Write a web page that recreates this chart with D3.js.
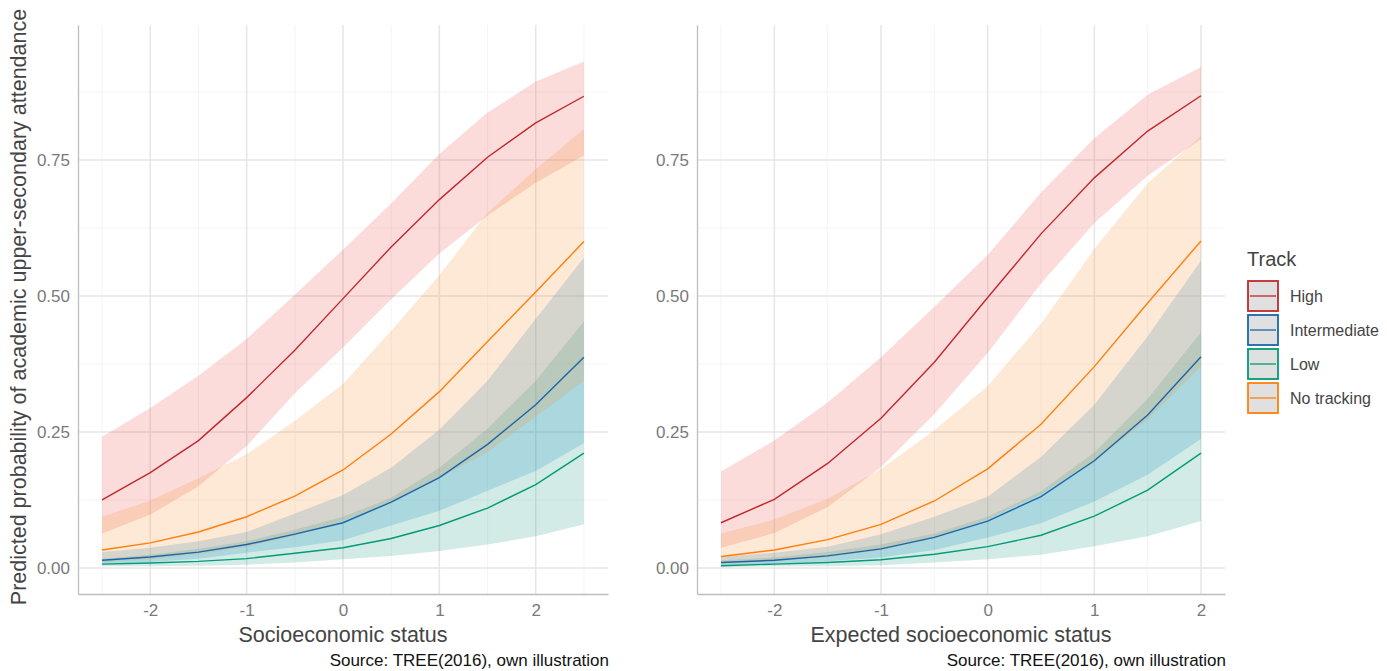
<!DOCTYPE html>
<html>
<head>
<meta charset="utf-8">
<script src="https://d3js.org/d3.v7.min.js"></script>
<style>
  body { margin: 0; background: #ffffff; }
  svg text { font-family: "Liberation Sans", Arial, sans-serif; }
</style>
</head>
<body>
<div id="chart"></div>
<script>
// ---- data ----
const tracks = ["High", "Intermediate", "Low", "No tracking"];
const xTicks = [-2, -1, 0, 1, 2];
const yTicks = [0, 0.25, 0.5, 0.75];

// panel 1: socioeconomic status
const sesX = [-2.5, -2, -1.5, -1, -0.5, 0, 0.5, 1, 1.5, 2, 2.5];
const sesHigh   = [0.125, 0.175, 0.234, 0.313, 0.400, 0.495, 0.590, 0.677, 0.755, 0.818, 0.867];
const sesHighLo = [0.063, 0.098, 0.150, 0.224, 0.321, 0.405, 0.494, 0.578, 0.648, 0.708, 0.758];
const sesHighHi = [0.241, 0.294, 0.353, 0.421, 0.502, 0.585, 0.670, 0.761, 0.837, 0.894, 0.931];
const sesInter   = [0.014, 0.020, 0.029, 0.043, 0.062, 0.083, 0.121, 0.166, 0.227, 0.300, 0.387];
const sesInterLo = [0.007, 0.011, 0.017, 0.028, 0.038, 0.051, 0.078, 0.105, 0.142, 0.178, 0.229];
const sesInterHi = [0.029, 0.037, 0.049, 0.066, 0.100, 0.134, 0.184, 0.254, 0.344, 0.458, 0.570];
const sesLow   = [0.007, 0.009, 0.012, 0.017, 0.027, 0.037, 0.054, 0.078, 0.110, 0.153, 0.211];
const sesLowLo = [0.003, 0.003, 0.004, 0.006, 0.010, 0.016, 0.022, 0.031, 0.043, 0.058, 0.080];
const sesLowHi = [0.017, 0.024, 0.035, 0.049, 0.070, 0.094, 0.129, 0.184, 0.256, 0.344, 0.453];
const sesNone   = [0.033, 0.046, 0.066, 0.094, 0.132, 0.180, 0.246, 0.324, 0.416, 0.507, 0.600];
const sesNoneLo = [0.011, 0.016, 0.025, 0.039, 0.059, 0.086, 0.121, 0.165, 0.213, 0.278, 0.344];
const sesNoneHi = [0.094, 0.124, 0.165, 0.209, 0.270, 0.338, 0.436, 0.538, 0.653, 0.733, 0.807];

// panel 2: expected socioeconomic status
const expX = [-2.5, -2, -1.5, -1, -0.5, 0, 0.5, 1, 1.5, 2];
const expHigh   = [0.083, 0.126, 0.192, 0.275, 0.378, 0.497, 0.614, 0.717, 0.803, 0.868];
const expHighLo = [0.037, 0.064, 0.112, 0.185, 0.283, 0.395, 0.523, 0.634, 0.721, 0.788];
const expHighHi = [0.177, 0.234, 0.304, 0.387, 0.480, 0.575, 0.690, 0.790, 0.870, 0.921];
const expInter   = [0.010, 0.014, 0.022, 0.035, 0.056, 0.086, 0.131, 0.197, 0.281, 0.388];
const expInterLo = [0.005, 0.007, 0.012, 0.019, 0.033, 0.056, 0.082, 0.122, 0.171, 0.237];
const expInterHi = [0.021, 0.028, 0.039, 0.062, 0.094, 0.131, 0.204, 0.300, 0.426, 0.565];
const expLow   = [0.004, 0.007, 0.010, 0.015, 0.025, 0.039, 0.060, 0.095, 0.143, 0.211];
const expLowLo = [0.001, 0.003, 0.003, 0.005, 0.010, 0.016, 0.024, 0.040, 0.058, 0.086];
const expLowHi = [0.014, 0.019, 0.029, 0.043, 0.063, 0.094, 0.141, 0.212, 0.311, 0.433];
const expNone   = [0.021, 0.033, 0.052, 0.080, 0.123, 0.182, 0.264, 0.370, 0.487, 0.601];
const expNoneLo = [0.007, 0.012, 0.020, 0.033, 0.055, 0.090, 0.136, 0.196, 0.273, 0.370];
const expNoneHi = [0.063, 0.089, 0.127, 0.182, 0.253, 0.334, 0.449, 0.586, 0.707, 0.794];

const lineColors = ["#c0282d", "#1a66a8", "#009b77", "#ff7f0e"];
const fillColors = ["#ea4f4b", "#0b88d9", "#239b82", "#f5912d"];

const width = 1387, height = 671;
const plotTop = 25, plotBottom = 594;

const svg = d3.select("#chart").append("svg")
  .attr("width", width).attr("height", height);

const y = d3.scaleLinear().domain([-0.048, 0.998]).range([plotBottom, plotTop]);

function series(xs, est, lo, hi) {
  return xs.map((x, i) => ({ x: x, est: est[i], lo: lo[i], hi: hi[i] }));
}

const panels = [
  {
    xDomain: [-2.75, 2.75], xRange: [78, 608],
    title: "Socioeconomic status",
    minor: [-2.5, -1.5, -0.5, 0.5, 1.5, 2.5],
    data: [
      series(sesX, sesHigh, sesHighLo, sesHighHi),
      series(sesX, sesInter, sesInterLo, sesInterHi),
      series(sesX, sesLow, sesLowLo, sesLowHi),
      series(sesX, sesNone, sesNoneLo, sesNoneHi)
    ]
  },
  {
    xDomain: [-2.725, 2.225], xRange: [697, 1225],
    title: "Expected socioeconomic status",
    minor: [-2.5, -1.5, -0.5, 0.5, 1.5],
    data: [
      series(expX, expHigh, expHighLo, expHighHi),
      series(expX, expInter, expInterLo, expInterHi),
      series(expX, expLow, expLowLo, expLowHi),
      series(expX, expNone, expNoneLo, expNoneHi)
    ]
  }
];

const yMinor = [0.125, 0.375, 0.625, 0.875];

panels.forEach(p => {
  const x = d3.scaleLinear().domain(p.xDomain).range(p.xRange);
  const g = svg.append("g");

  // grid
  g.selectAll(".hminor").data(yMinor).join("line")
    .attr("x1", p.xRange[0]).attr("x2", p.xRange[1])
    .attr("y1", d => y(d)).attr("y2", d => y(d))
    .attr("stroke", "#f1f1f1").attr("stroke-width", 0.8);
  g.selectAll(".vminor").data(p.minor).join("line")
    .attr("x1", d => x(d)).attr("x2", d => x(d))
    .attr("y1", plotTop).attr("y2", plotBottom)
    .attr("stroke", "#f1f1f1").attr("stroke-width", 0.8);
  g.selectAll(".hmajor").data(yTicks).join("line")
    .attr("x1", p.xRange[0]).attr("x2", p.xRange[1])
    .attr("y1", d => y(d)).attr("y2", d => y(d))
    .attr("stroke", "#e6e6e6").attr("stroke-width", 1.5);
  g.selectAll(".vmajor").data(xTicks).join("line")
    .attr("x1", d => x(d)).attr("x2", d => x(d))
    .attr("y1", plotTop).attr("y2", plotBottom)
    .attr("stroke", "#e6e6e6").attr("stroke-width", 1.5);

  // ribbons
  const area = d3.area().x(d => x(d.x)).y0(d => y(d.lo)).y1(d => y(d.hi));
  p.data.forEach((s, i) => {
    g.append("path").datum(s).attr("d", area)
      .attr("fill", fillColors[i]).attr("fill-opacity", 0.2);
  });

  // lines
  const line = d3.line().x(d => x(d.x)).y(d => y(d.est));
  p.data.forEach((s, i) => {
    g.append("path").datum(s).attr("d", line)
      .attr("fill", "none").attr("stroke", lineColors[i]).attr("stroke-width", 1.4);
  });

  // axes
  const ax = g.append("g").attr("transform", `translate(0,${plotBottom})`)
    .call(d3.axisBottom(x).tickValues(xTicks).tickFormat(d => String(d))
      .tickSize(0).tickSizeOuter(0).tickPadding(10));
  const ay = g.append("g").attr("transform", `translate(${p.xRange[0]},0)`)
    .call(d3.axisLeft(y).tickValues(yTicks).tickFormat(d3.format(".2f"))
      .tickSize(0).tickSizeOuter(0).tickPadding(8));
  [ax, ay].forEach(a => {
    a.select(".domain").attr("stroke", "#bdbdbd").attr("stroke-width", 1.3);
    a.selectAll("text").attr("fill", "#7a7a7a").style("font-size", "17px");
  });

  svg.append("text")
    .attr("x", (p.xRange[0] + p.xRange[1]) / 2).attr("y", 642)
    .attr("text-anchor", "middle").attr("fill", "#444")
    .style("font-size", "21.5px").text(p.title);

  svg.append("text")
    .attr("x", p.xRange[1] + 1).attr("y", 666)
    .attr("text-anchor", "end").attr("fill", "#111")
    .style("font-size", "17px").text("Source: TREE(2016), own illustration");
});

// y axis title
svg.append("text")
  .attr("transform", "translate(26,307) rotate(-90)")
  .attr("text-anchor", "middle").attr("fill", "#444")
  .style("font-size", "21.5px")
  .text("Predicted probability of academic upper-secondary attendance");

// legend
const lg = svg.append("g").attr("transform", "translate(1247,0)");
lg.append("text").attr("x", 0).attr("y", 266).attr("fill", "#444")
  .style("font-size", "20px").text("Track");
const keys = lg.selectAll(".key").data(tracks).join("g")
  .attr("transform", (d, i) => `translate(0,${280 + i * 34})`);
keys.append("rect").attr("x", 1).attr("y", 1).attr("width", 30).attr("height", 30)
  .attr("fill", "#e0e0e0")
  .attr("stroke", (d, i) => lineColors[i]).attr("stroke-width", 1.8);
keys.append("line").attr("x1", 3).attr("x2", 29).attr("y1", 16).attr("y2", 16)
  .attr("stroke", (d, i) => lineColors[i]).attr("stroke-width", 1.3);
keys.append("text").attr("x", 43).attr("y", 22).attr("fill", "#444")
  .style("font-size", "16px").text(d => d);
</script>
</body>
</html>
